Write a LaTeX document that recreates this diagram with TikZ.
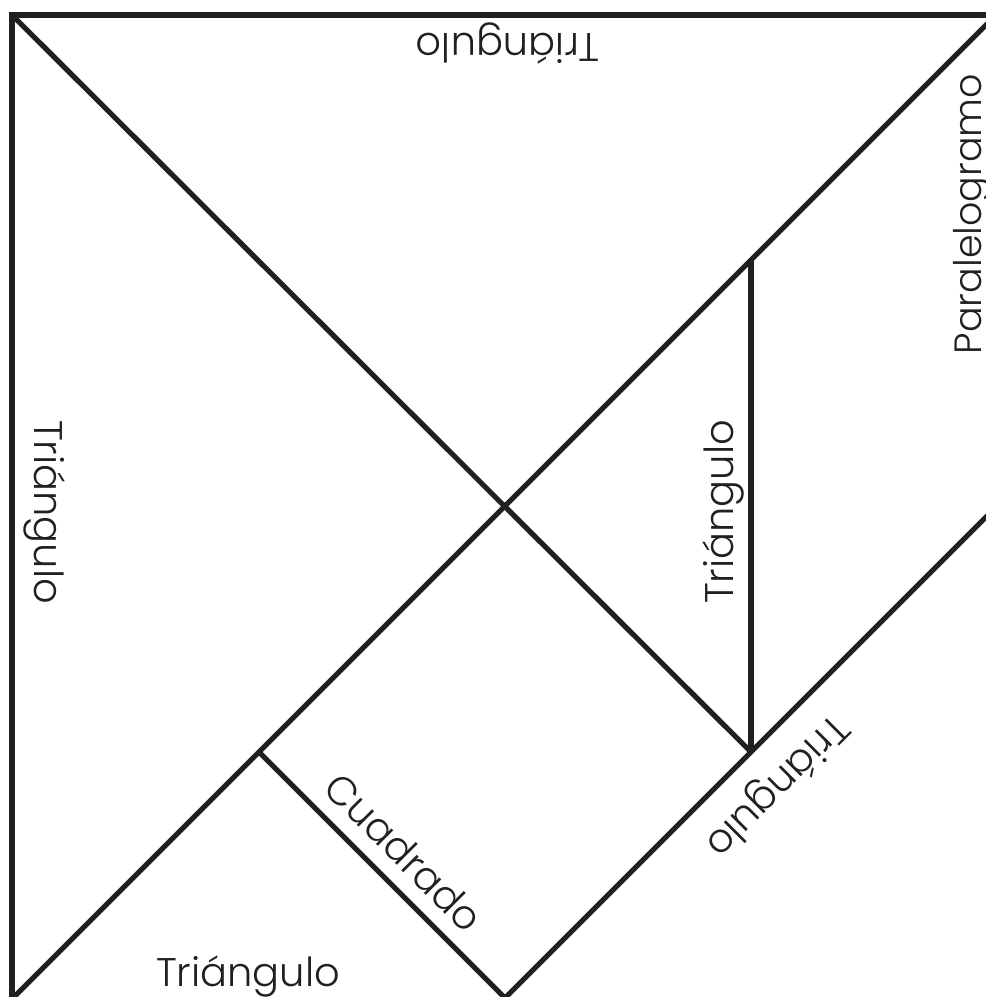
\documentclass[tikz,border=0pt]{standalone}
\usepackage{fontspec}
\setmainfont{Poppins}[UprightFont={* Light}]
\begin{document}
\begin{tikzpicture}[x=0.5pt,y=-0.5pt,
  edge/.style={line width=2.6pt,draw={rgb,255:red,35;green,31;blue,32},line cap=butt,line join=miter},
  lbl/.style={font=\fontsize{20}{24}\selectfont,inner sep=0pt,text={rgb,255:red,35;green,31;blue,32}}]
\useasboundingbox (0,0) rectangle (986,997);
\clip (0,0) rectangle (986,997);
% corners and vertices
\coordinate (TL) at (12,15);
\coordinate (TRo) at (1010,15);
\coordinate (BLo) at (12,1010);
\coordinate (BL) at (0,1011);
\coordinate (TR) at (1011,0);
\coordinate (C) at (505,506);
\coordinate (Q) at (259,752);
\coordinate (P) at (751,752);
\coordinate (V) at (751,260);
\coordinate (Bx) at (493,1010);
\coordinate (Bq) at (517,1010);
\coordinate (R) at (1003,500);
% outer square
\draw[edge] (BLo) -- (TL) -- (TRo);
% main diagonal
\draw[edge] (TL) -- (P);
% anti-diagonal
\draw[edge] (BL) -- (TR);
% small triangle side
\draw[edge] (V) -- (P);
% lower right line
\draw[edge] (Bx) -- (R);
% square lower-left side
\draw[edge] (Q) -- (Bq);
% labels
\node[lbl,anchor=base,rotate=180] (t1) at (508,33) {Triángulo};
\node[lbl,anchor=base,rotate=90,font=\fontsize{19}{24}\selectfont] (t2) at (981,214) {Paralelogramo};
\node[lbl,anchor=base,rotate=-90] (t3) at (34,512) {Triángulo};
\node[lbl,anchor=base,rotate=90] (t4) at (733,512) {Triángulo};
\node[lbl,anchor=center,rotate=225] (t5) at (776,785) {Triángulo};
\node[lbl,anchor=center,rotate=-45] (t6) at (404,852) {Cuadrado};
\node[lbl,anchor=base] (t7) at (248,986) {Triángulo};
\end{tikzpicture}
\end{document}
